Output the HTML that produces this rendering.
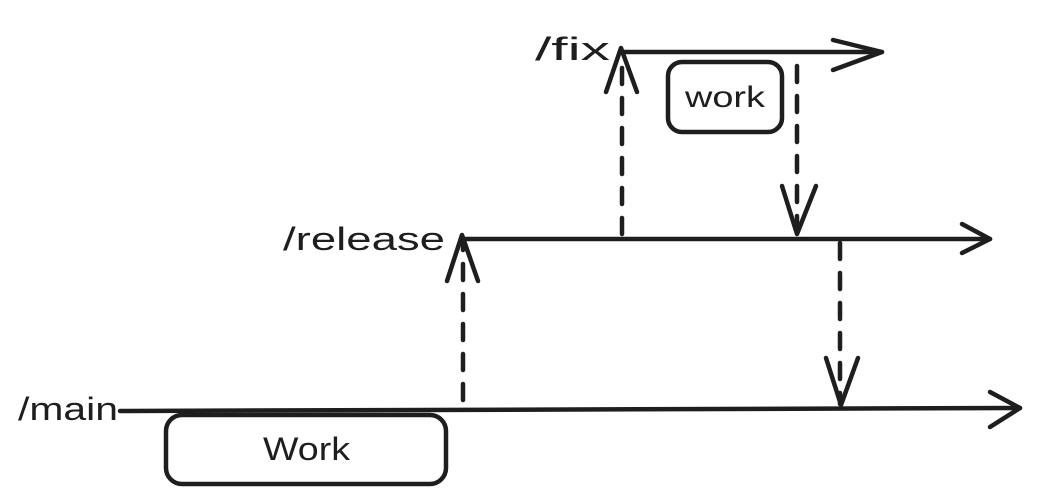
<!DOCTYPE html>
<html><head><meta charset="utf-8"><style>
html,body{margin:0;padding:0;background:#fff;}
svg{display:block;}
text{font-family:"Liberation Sans",sans-serif;fill:#1e1e1e;}
</style></head><body>
<svg width="1040" height="503" viewBox="0 0 1040 503" xmlns="http://www.w3.org/2000/svg">
<g stroke="#1e1e1e" stroke-width="4.5" fill="none" stroke-linecap="round" stroke-linejoin="round">
  <path d="M120 411 L1020 408"/>
  <path d="M990 392 L1020 408 L990 427"/>
  <rect x="166" y="415" width="280" height="69" rx="16"/>
  <path d="M462 239 L990 239"/>
  <path d="M962 224 L990 239 L962 253"/>
  <path d="M620 52 L882 52"/>
  <path d="M833 40 L882 52 L833 70"/>
  <rect x="668" y="62" width="114" height="70" rx="14"/>
  <path d="M463 400 L463 242" stroke-dasharray="16 14"/>
  <path d="M447 281 L462 235 L478 281"/>
  <path d="M622 234 L622 56" stroke-dasharray="16 14"/>
  <path d="M606 92 L621 48 L637 92"/>
  <path d="M797 66 L797 234" stroke-dasharray="16 14"/>
  <path d="M782 186 L797 234 L816 186"/>
  <path d="M840 243 L840 404" stroke-dasharray="16 14"/>
  <path d="M826 358 L841 405 L858 358"/>
</g>
<text x="535" y="60" font-size="32" textLength="75" lengthAdjust="spacingAndGlyphs">/fix</text>
<text x="283" y="250" font-size="32" textLength="162" lengthAdjust="spacingAndGlyphs">/release</text>
<text x="18" y="420" font-size="32" textLength="100" lengthAdjust="spacingAndGlyphs">/main</text>
<text x="685" y="107" font-size="30" textLength="80" lengthAdjust="spacingAndGlyphs">work</text>
<text x="263" y="460" font-size="32" textLength="87" lengthAdjust="spacingAndGlyphs">Work</text>
</svg>
</body></html>
